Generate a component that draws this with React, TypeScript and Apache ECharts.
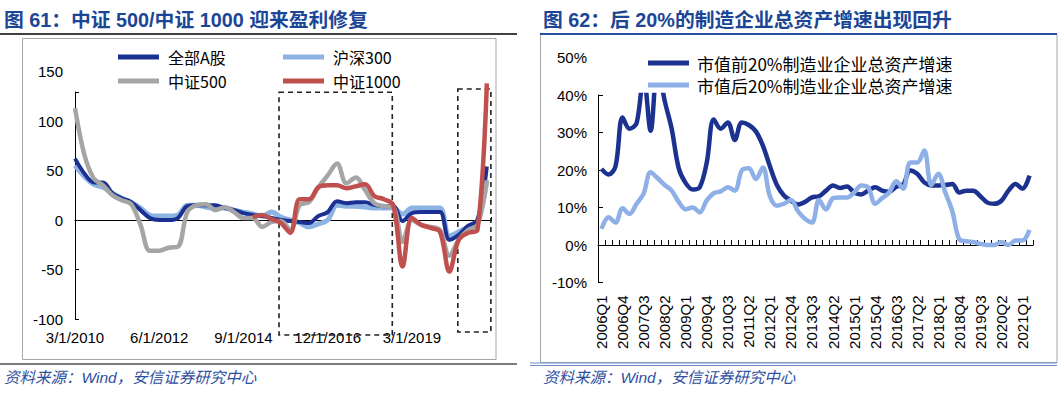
import { useEffect, useRef } from 'react';
import * as echarts from 'echarts';

const FONT = '"Liberation Sans", Arial, "Noto Sans CJK SC", sans-serif';
const CJK = '"Noto Sans CJK SC", "Liberation Sans", sans-serif';

// ---------- Left chart (图61) ----------
const leftDates: string[] = [];
for (let y = 2010; y <= 2021; y++) {
  for (const m of [3, 6, 9, 12]) {
    if (y === 2021 && m > 3) break;
    leftDates.push(`${m}/1/${y}`);
  }
}
const monthIndex = (d: string) => {
  const [m, , y] = d.split('/').map(Number);
  return (y - 2010) * 12 + (m - 3);
};
const leftTickLabels = ['3/1/2010', '6/1/2012', '9/1/2014', '12/1/2016', '3/1/2019'];

const allA = [62, 47, 38, 38, 27, 22, 18, 10, 2, 0, 0, 2, 14, 15, 15, 15, 12, 10, 7, 5, 4, 2, 0, -1, -2, -3, 4, 8, 19, 17, 18, 18, 15, 14, 14, -1, 7, 8, 8, 8, -20, -15, -6, 0, 54];
const hs300 = [55, 44, 36, 33, 27, 22, 18, 12, 5, 4, 4, 5, 15, 15, 13, 12, 12, 10, 8, 6, 4, 8, 3, 0, -3, -7, -4, 0, 15, 14, 14, 13, 12, 12, 12, 6, 12, 12, 12, 12, -16, -12, -7, -1, 40];
const zz500 = [113, 66, 42, 35, 25, 20, 16, -5, -31, -31, -28, -27, 8, 15, 16, 10, 13, 8, 2, 2, -7, -2, -1, -10, 15, 18, 33, 45, 57, 37, 43, 30, 17, 14, 13, -22, 0, -5, -7, -10, -36, -20, -10, -5, 40];
const zz1000 = [null, null, null, null, null, null, null, null, null, null, null, null, null, null, null, null, null, null, null,
  3, 5, 1, -3, -13, 21, 21, 33, 35, 35, 32, 34, 36, 24, 21, 15, -47, 2, -5, -8, -12, -52, -20, -13, -10, 138];

// dashed highlight boxes: [monthFrom, valueTop, monthTo, valueBottom]
const highlightBoxes = [
  [65.4, 129, 101.7, -116.2],
  [122.7, 132.3, 133.3, -113.1],
];

// ---------- Right chart (图62) ----------
const rightQuarters: string[] = [];
for (let y = 2006; y <= 2021; y++) {
  for (let q = 1; q <= 4; q++) {
    if (y === 2021 && q > 2) break;
    rightQuarters.push(`${y}Q${q}`);
  }
}
const top20 = [20.3, 18.8, 21, 34, 31, 32.5, 45, 30.5, 48, 38.5, 31, 20.5, 16.5, 14.8, 15.4, 22, 33.5, 31, 32.7, 28, 32.7, 32, 30.3, 26.5, 21, 16, 13.2, 11.8, 10.8, 11.5, 12.7, 13, 14.5, 15.9, 15.2, 15.6, 14, 13.5, 14.5, 15.4, 14.5, 14.2, 15.5, 16.2, 19.9, 19, 16.7, 15.9, 15.9, 16, 16.3, 14, 14.5, 14.5, 13, 11.3, 11, 11.8, 14.5, 16.3, 15, 18.5];
const bottom20 = [4.3, 7.4, 6, 9.8, 8.3, 11, 13.7, 19.4, 17.8, 16, 14.5, 11.5, 9.5, 10, 8.7, 11.9, 13.8, 14.3, 15.4, 14.5, 19.9, 20.5, 17.6, 20.7, 13, 10.5, 11, 12, 9, 7, 6, 12, 9.5, 12.5, 12.7, 12.7, 14, 15.9, 15.4, 11, 12.5, 14, 17, 15, 22, 22, 25.2, 16, 19, 14, 9, 1.5, 1, 0.8, 0.3, 0, 0, 0.8, 0, 1.2, 1.2, 4];

const toPairs = (vals: (number | null)[]) =>
  leftDates.map((d, i) => [monthIndex(d), vals[i]]).filter((p) => p[1] !== null);

const legendBase = {
  orient: 'horizontal',
  padding: 0,
  itemWidth: 41,
  itemHeight: 5,
  icon: 'rect',
  selectedMode: false,
};

export default function App() {
  const ref = useRef<HTMLDivElement>(null);
  useEffect(() => {
    if (!ref.current) return;
    const chart = echarts.init(ref.current, null, { renderer: 'svg' });
    const noSplit = { show: false };
    const option: any = {
      animation: false,
      backgroundColor: '#fff',
      grid: [
        { left: 75, top: 71.5, width: 416.5, height: 247.5 },
        { left: 75, top: 92, width: 416.5, height: 227 },
        { left: 75, top: 71.5, width: 416.5, height: 267.3 },
        { left: 598, top: 57.5, width: 435, height: 225 },
        { left: 598, top: 95, width: 435, height: 187.5 },
      ],
      xAxis: [
        {
          gridIndex: 0, type: 'value', min: 0, max: 133.5, interval: 27,
          axisLine: { show: false }, axisTick: { show: false }, splitLine: noSplit,
          axisLabel: {
            margin: 11, fontSize: 15, color: '#000', fontFamily: FONT, showMaxLabel: false,
            formatter: (v: number) => (v % 27 === 0 ? leftTickLabels[v / 27] ?? '' : ''),
          },
        },
        { gridIndex: 1, type: 'value', min: 0, max: 1, show: false },
        {
          gridIndex: 2, type: 'value', min: 0, max: 133.5, interval: 27,
          axisLine: { show: true, onZero: true, lineStyle: { color: '#000', width: 1 } },
          axisTick: { show: true, inside: true, length: 3, lineStyle: { color: '#000' } },
          axisLabel: { show: false }, splitLine: noSplit,
        },
        {
          gridIndex: 3, type: 'category', data: rightQuarters, boundaryGap: true,
          axisLine: { show: false }, axisTick: { show: false },
          axisLabel: { interval: 2, rotate: 90, margin: 13, fontSize: 15, color: '#000', fontFamily: FONT },
        },
        {
          gridIndex: 4, type: 'category', data: rightQuarters, boundaryGap: true,
          axisLine: { show: true, onZero: true, lineStyle: { color: '#000', width: 1 } },
          axisTick: { show: true, inside: true, length: 5, interval: 0, lineStyle: { color: '#000' } },
          axisLabel: { show: false },
        },
      ],
      yAxis: [
        {
          gridIndex: 0, type: 'value', min: -100, max: 150, interval: 50,
          axisLine: { show: false }, axisTick: { show: false }, splitLine: noSplit,
          axisLabel: { margin: 12, fontSize: 15, color: '#000', fontFamily: FONT },
        },
        {
          gridIndex: 1, type: 'value', min: -100, max: 129.3, interval: 50,
          axisLine: { show: true, onZero: false, lineStyle: { color: '#000', width: 1 } },
          axisTick: { show: true, inside: true, length: 4, lineStyle: { color: '#000' } },
          axisLabel: { show: false }, splitLine: noSplit,
        },
        { gridIndex: 2, type: 'value', min: -120, max: 150, show: false, splitLine: noSplit },
        {
          gridIndex: 3, type: 'value', min: -10, max: 50, interval: 10,
          axisLine: { show: false }, axisTick: { show: false }, splitLine: noSplit,
          axisLabel: { margin: 11, fontSize: 15, color: '#000', fontFamily: FONT, formatter: '{value}%' },
        },
        {
          gridIndex: 4, type: 'value', min: -10, max: 40, interval: 10,
          axisLine: { show: true, onZero: false, lineStyle: { color: '#000', width: 1 } },
          axisTick: { show: true, inside: true, length: 5, lineStyle: { color: '#000' } },
          axisLabel: { show: false }, splitLine: noSplit,
        },
      ],
      legend: [
        { ...legendBase, data: ['全部A股'], left: 118, top: 47, textStyle: { fontSize: 16, color: '#000', fontFamily: CJK, lineHeight: 20, padding: [0, 0, 0, 4] } },
        { ...legendBase, data: ['中证500'], left: 118, top: 71, textStyle: { fontSize: 16, color: '#000', fontFamily: CJK, lineHeight: 20, padding: [0, 0, 0, 4] } },
        { ...legendBase, data: ['沪深300'], left: 283, top: 47, textStyle: { fontSize: 16, color: '#000', fontFamily: CJK, lineHeight: 20, padding: [0, 0, 0, 4] } },
        { ...legendBase, data: ['中证1000'], left: 283, top: 71, textStyle: { fontSize: 16, color: '#000', fontFamily: CJK, lineHeight: 20, padding: [0, 0, 0, 4] } },
        { ...legendBase, data: ['市值前20%制造业企业总资产增速'], left: 648, top: 53, textStyle: { fontSize: 17, color: '#000', fontFamily: CJK, lineHeight: 20, padding: [0, 0, 0, 3] } },
        { ...legendBase, data: ['市值后20%制造业企业总资产增速'], left: 648, top: 75, textStyle: { fontSize: 17, color: '#000', fontFamily: CJK, lineHeight: 20, padding: [0, 0, 0, 3] } },
      ],
      series: [
        {
          name: '沪深300', type: 'line', xAxisIndex: 2, yAxisIndex: 2, data: toPairs(hs300),
          color: '#8DB3E2', symbol: 'none', smooth: 0.35, lineStyle: { width: 5, color: '#8DB3E2' },
        },
        {
          name: '全部A股', type: 'line', xAxisIndex: 2, yAxisIndex: 2, data: toPairs(allA),
          color: '#1A3193', symbol: 'none', smooth: 0.35, lineStyle: { width: 4, color: '#1A3193' },
        },
        {
          name: '中证500', type: 'line', xAxisIndex: 2, yAxisIndex: 2, data: toPairs(zz500),
          color: '#A5A5A5', symbol: 'none', smooth: 0.35, lineStyle: { width: 4.5, color: '#A5A5A5' },
        },
        {
          name: '中证1000', type: 'line', xAxisIndex: 2, yAxisIndex: 2, data: toPairs(zz1000),
          color: '#C0504D', symbol: 'none', smooth: 0.35, lineStyle: { width: 4.5, color: '#C0504D' },
          markArea: {
            silent: true,
            label: { show: false },
            itemStyle: { color: 'rgba(0,0,0,0)', borderColor: '#222', borderWidth: 1.6, borderType: [5, 4] },
            data: highlightBoxes.map((b) => [{ coord: [b[0], b[1]] }, { coord: [b[2], b[3]] }]),
          },
        },
        {
          name: '市值前20%制造业企业总资产增速', type: 'line', xAxisIndex: 4, yAxisIndex: 4, data: top20,
          color: '#1C3290', symbol: 'none', smooth: 0.35, lineStyle: { width: 4.5, color: '#1C3290' },
        },
        {
          name: '市值后20%制造业企业总资产增速', type: 'line', xAxisIndex: 4, yAxisIndex: 4, data: bottom20,
          color: '#8EB0E6', symbol: 'none', smooth: 0.35, lineStyle: { width: 4.5, color: '#8EB0E6' },
        },
      ],
      graphic: [
        { type: 'text', x: 4, y: 20, style: { text: '图 61：中证 500/中证 1000 迎来盈利修复', fill: '#1B4696', fontSize: 19.8, fontWeight: 'bold', fontFamily: FONT, verticalAlign: 'middle' } },
        { type: 'line', shape: { x1: 0, y1: 34, x2: 517, y2: 34 }, style: { stroke: '#404040', lineWidth: 2 } },
        { type: 'rect', shape: { x: 22.5, y: 38.5, width: 473.5, height: 321 }, style: { fill: 'none', stroke: '#A6A6A6', lineWidth: 1 } },
        { type: 'line', shape: { x1: 0, y1: 364, x2: 517, y2: 364 }, style: { stroke: '#505050', lineWidth: 1.5 } },
        { type: 'text', x: 4, y: 377.5, style: { text: '资料来源：Wind，安信证券研究中心', fill: '#2F4F9F', fontSize: 15.5, fontStyle: 'italic', fontFamily: FONT, verticalAlign: 'middle' } },

        { type: 'text', x: 543, y: 20, style: { text: '图 62：后 20%的制造企业总资产增速出现回升', fill: '#1B4696', fontSize: 19.8, fontWeight: 'bold', fontFamily: FONT, verticalAlign: 'middle' } },
        { type: 'rect', shape: { x: 540.5, y: 34.5, width: 516.5, height: 328 }, style: { fill: 'none', stroke: '#A6A6A6', lineWidth: 1 } },
        { type: 'line', shape: { x1: 540, y1: 34, x2: 1057, y2: 34 }, style: { stroke: '#2B4FA0', lineWidth: 2 } },
        { type: 'line', shape: { x1: 530, y1: 363, x2: 1057, y2: 363 }, style: { stroke: '#6F8FCF', lineWidth: 1 } },
        { type: 'line', shape: { x1: 530, y1: 365.5, x2: 1057, y2: 365.5 }, style: { stroke: '#6F8FCF', lineWidth: 1 } },
        { type: 'text', x: 543, y: 377.5, style: { text: '资料来源：Wind，安信证券研究中心', fill: '#2F4F9F', fontSize: 15.5, fontStyle: 'italic', fontFamily: FONT, verticalAlign: 'middle' } },
      ],
    };
    chart.setOption(option);
    return () => chart.dispose();
  }, []);
  return <div ref={ref} style={{ position: 'absolute', left: 0, top: 0, width: 1061, height: 395 }} />;
}
